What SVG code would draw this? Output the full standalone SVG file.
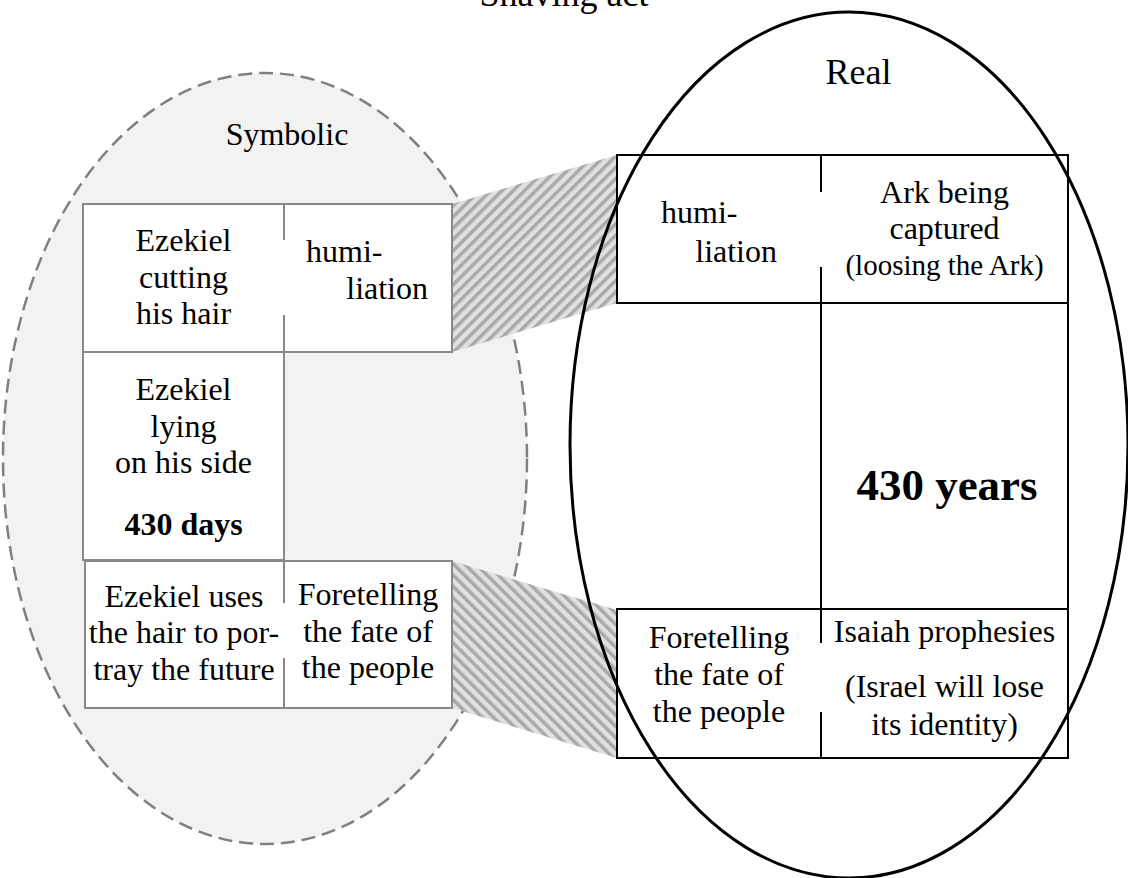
<svg xmlns="http://www.w3.org/2000/svg" width="1128" height="878" viewBox="0 0 1128 878">
<style>
text{font-family:"Liberation Serif","Times New Roman",serif;fill:#000;text-anchor:middle}
.t{font-size:32px}
.s{font-size:29px}
.b{font-weight:bold}
.lt{fill:#fff;stroke:#888;stroke-width:2}
.ll{stroke:#888;stroke-width:2;fill:none}
.rt{fill:#fff;stroke:#000;stroke-width:2}
.rl{stroke:#000;stroke-width:2;fill:none}
</style>
<defs>
<pattern id="hatchUp" patternUnits="userSpaceOnUse" width="8" height="8" patternTransform="rotate(45)">
<rect width="8" height="8" fill="#e0e0e0"/>
<rect width="3.5" height="8" fill="#a9a9a9"/>
</pattern>
<pattern id="hatchDown" patternUnits="userSpaceOnUse" width="8" height="8" patternTransform="rotate(-45)">
<rect width="8" height="8" fill="#e0e0e0"/>
<rect width="3.5" height="8" fill="#a9a9a9"/>
</pattern>
</defs>
<rect width="1128" height="878" fill="#fff"/>
<text x="564" y="6" style="font-size:36px">Shaving act</text>

<g id="symbolic">
<ellipse cx="265" cy="458.5" rx="262" ry="385.5" fill="#f2f2f2" stroke="#808080" stroke-width="2.5" stroke-dasharray="14 7"/>
<text x="287" y="145" class="t">Symbolic</text>
</g>

<g id="connectors">
<polygon points="452,204 617,155 617,303 452,352" fill="url(#hatchUp)"/>
<polygon points="452,561 617,610 617,758 452,708" fill="url(#hatchDown)"/>
</g>

<g id="sym-row1">
<rect class="lt" x="83" y="204" width="369" height="148"/>
<line class="ll" x1="284" y1="204" x2="284" y2="240"/>
<line class="ll" x1="284" y1="315" x2="284" y2="352"/>
<text class="t" x="183.5" y="251">Ezekiel</text>
<text class="t" x="183.5" y="287.5">cutting</text>
<text class="t" x="183.5" y="324">his hair</text>
<text class="t" x="306" y="262" style="text-anchor:start">humi-</text>
<text class="t" x="428" y="299" style="text-anchor:end">liation</text>
</g>

<g id="sym-row2">
<rect class="lt" x="83" y="352" width="201" height="208"/>
<text class="t" x="183.5" y="400">Ezekiel</text>
<text class="t" x="183.5" y="437">lying</text>
<text class="t" x="183.5" y="473">on his side</text>
<text class="t b" x="183.5" y="535">430 days</text>
</g>

<g id="sym-row3">
<rect class="lt" x="85" y="561" width="367" height="147"/>
<line class="ll" x1="284" y1="561" x2="284" y2="603"/>
<line class="ll" x1="284" y1="658" x2="284" y2="708"/>
<text class="t" x="184" y="607">Ezekiel uses</text>
<text class="t" x="184" y="643">the hair to por-</text>
<text class="t" x="184" y="680">tray the future</text>
<text class="t" x="368" y="605">Foretelling</text>
<text class="t" x="368" y="642">the fate of</text>
<text class="t" x="368" y="678">the people</text>
</g>

<g id="real-row1">
<rect class="rt" x="617" y="155" width="451" height="148"/>
<line class="rl" x1="821" y1="155" x2="821" y2="192"/>
<line class="rl" x1="821" y1="267" x2="821" y2="303"/>
<text class="t" x="661" y="223" style="text-anchor:start">humi-</text>
<text class="t" x="777" y="262" style="text-anchor:end">liation</text>
<text class="t" x="944.5" y="203">Ark being</text>
<text class="t" x="944.5" y="239">captured</text>
<text class="s" x="944.5" y="275">(loosing the Ark)</text>
</g>

<g id="real-row2">
<rect class="rt" x="821" y="303" width="247" height="306"/>
<text class="b" x="947" y="500" style="font-size:45px">430 years</text>
</g>

<g id="real-row3">
<rect class="rt" x="617" y="609" width="451" height="149"/>
<line class="rl" x1="821" y1="609" x2="821" y2="643"/>
<line class="rl" x1="821" y1="712" x2="821" y2="758"/>
<text class="t" x="719" y="648">Foretelling</text>
<text class="t" x="719" y="685">the fate of</text>
<text class="t" x="719" y="722">the people</text>
<text class="t" x="944.5" y="642">Isaiah prophesies</text>
<text class="t" x="944.5" y="697">(Israel will lose</text>
<text class="t" x="944.5" y="735">its identity)</text>
</g>

<g id="real">
<ellipse cx="849" cy="445" rx="279" ry="433" fill="none" stroke="#000" stroke-width="3"/>
<text x="858.5" y="84" style="font-size:36px">Real</text>
</g>
</svg>
